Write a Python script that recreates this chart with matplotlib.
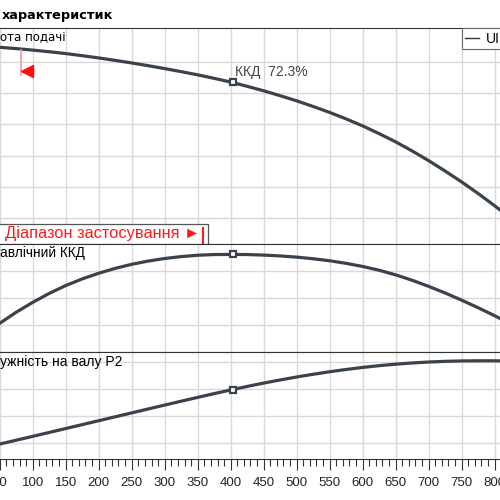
import matplotlib.pyplot as plt
import numpy as np
from matplotlib.lines import Line2D
from matplotlib.patches import Rectangle
from matplotlib.ticker import MultipleLocator
from matplotlib.transforms import offset_copy

plt.rcParams['font.family'] = ['Liberation Sans', 'DejaVu Sans']

# flow (x axis) and the three pump curves
flow = [50, 75, 100, 125, 150, 175, 200, 225, 250, 275, 300, 325, 350, 375,
        400, 425, 450, 475, 500, 525, 550, 575, 600, 625, 650, 675, 700, 725,
        750, 775, 800, 825, 850]
head = [37.3, 37.09, 36.85, 36.59, 36.3, 35.96, 35.6, 35.21, 34.8, 34.36,
        33.9, 33.41, 32.9, 32.34, 31.75, 31.07, 30.35, 29.57, 28.75, 27.85,
        26.9, 25.86, 24.75, 23.51, 22.2, 20.75, 19.2, 17.54, 15.8, 13.95,
        12.0, 9.95, 7.8]
efficiency = [21.4, 29.6, 36.9, 43.5, 49.3, 54.2, 58.4, 62.0, 65.0, 67.4,
              69.3, 70.7, 71.7, 72.2, 72.3, 72.2, 71.8, 71.2, 70.3, 69.1,
              67.6, 65.7, 63.4, 60.6, 57.2, 53.2, 48.7, 43.8, 38.5, 32.9,
              27.0, 20.8, 14.3]
power = [29.5, 30.92, 32.35, 33.8, 35.25, 36.7, 38.15, 39.6, 41.05, 42.5,
         43.95, 45.38, 46.8, 48.19, 49.55, 50.85, 52.1, 53.26, 54.35, 55.36,
         56.3, 57.14, 57.9, 58.55, 59.1, 59.55, 59.9, 60.15, 60.3, 60.36,
         60.35, 60.25, 60.1]

# duty point
q_bep = 404
head_bep = 31.75
eff_bep = 72.3
power_bep = 49.7

# application range
q_range = [83, 358]

x_ticks = np.arange(0, 851, 50)
head_ticks = [10, 15, 20, 25, 30, 35]
eff_ticks = [20, 40, 60]
power_ticks = [30, 40, 50, 60]

CURVE = '#3a434c'
GRID = '#d9d9d9'
FRAME = '#333333'


def fy(p):
    return 1 - p / 500.0


fig = plt.figure(figsize=(5, 5), dpi=100)
left = -33.3 / 500
width = 561.0 / 500
ax1 = fig.add_axes([left, fy(244), width, (244 - 28.3) / 500])
ax2 = fig.add_axes([left, fy(352.3), width, (352.3 - 244) / 500])
ax3 = fig.add_axes([left, fy(459.3), width, (459.3 - 352.3) / 500])

for ax, y, yt, lim, pt in [(ax1, head, head_ticks, (5.9, 40.33), head_bep),
                           (ax2, efficiency, eff_ticks, (0, 80), eff_bep),
                           (ax3, power, power_ticks, (23.85, 63.5), power_bep)]:
    ax.plot(flow, y, color=CURVE, lw=2.3, solid_capstyle='round',
            solid_joinstyle='round', zorder=3)
    ax.plot([q_bep], [pt], marker='s', ms=5, mfc='white', mec=CURVE, mew=1.6, zorder=4)
    ax.set_xlim(0, 850)
    ax.set_ylim(*lim)
    ax.set_xticks(x_ticks)
    ax.set_yticks(yt)
    ax.set_axisbelow(True)
    ax.grid(True, color=GRID, lw=1.0)
    ax.tick_params(axis='y', length=0, labelleft=False)
    for s in ax.spines.values():
        s.set_color(FRAME)
        s.set_linewidth(0.8)

for ax in (ax1, ax2):
    ax.tick_params(axis='x', length=0, labelbottom=False)

ax3.xaxis.set_minor_locator(MultipleLocator(10))
ax3.tick_params(axis='x', which='major', length=8, width=0.8, colors=FRAME,
                labelcolor='#222222', labelsize=9.5, pad=5)
ax3.tick_params(axis='x', which='minor', length=5, width=0.8, colors=FRAME)

# duty point label
ax1.annotate('ККД  {}%'.format(eff_bep), (q_bep, head_bep), xytext=(1, 7),
             textcoords='offset points', ha='left', va='center',
             fontsize=10, color='#444444', zorder=5)

# start of application range
xt = ax1.get_xaxis_transform()
ax1.plot([q_range[0]] * 2, [0.783, 0.899], transform=xt, color='#f59aa0', lw=1.2, zorder=5)
ax1.plot([q_range[0]], [0.801], marker='<', ms=8, color='#ff1010', mec='#ff1010', zorder=5,
         transform=offset_copy(xt, fig, x=4, y=0, units='points'))

# application range box
ax1.add_patch(Rectangle((-3 / 500, fy(244)), 211.3 / 500, 20 / 500, transform=fig.transFigure,
                        facecolor='white', edgecolor='#555555', lw=0.9, zorder=6))
ax1.text(5 / 500, fy(233.5), 'Діапазон застосування ►', transform=fig.transFigure,
         fontsize=11.8, color='#ff1a1a', ha='left', va='center', zorder=7)
ax1.plot([q_range[1]] * 2, [0.005, 0.074], transform=xt, color='#ff1a1a', lw=1.5, zorder=7)

# panel labels (cut at the left edge of the picture)
fig.text(1.5 / 500, fy(15), 'характеристик', family='DejaVu Sans', fontweight='bold',
         fontsize=9.3, va='center', ha='left')
fig.text(0, fy(37.3), 'ота подачі', family='DejaVu Sans', fontsize=8.5, va='center', ha='left')
fig.text(0, fy(253.3), 'авлічний ККД', fontsize=9.8, va='center', ha='left')
fig.text(0, fy(361.7), 'ужність на валу P2', fontsize=10, va='center', ha='left')

leg = ax1.legend(handles=[Line2D([], [], color=FRAME, lw=1)], labels=['UI'],
                 loc='upper left', bbox_to_anchor=(461.7 / 500, fy(28.3)),
                 bbox_transform=fig.transFigure, borderaxespad=0, fancybox=False,
                 framealpha=1, edgecolor='#666666', handlelength=1.0,
                 handletextpad=0.5, borderpad=0.25, fontsize=10)
leg.get_frame().set_linewidth(0.8)

plt.savefig('out.png', dpi=100)
